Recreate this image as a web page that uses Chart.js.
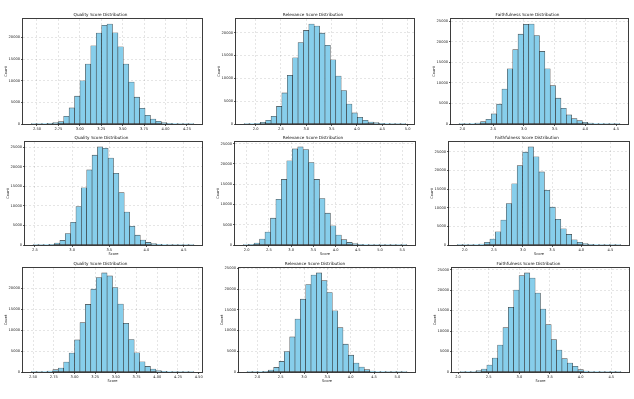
<!DOCTYPE html>
<html>
<head>
<meta charset="utf-8">
<script src="https://cdn.jsdelivr.net/npm/chart.js@4.4.1/dist/chart.umd.min.js"></script>
<style>
html,body{margin:0;padding:0;background:#fff;overflow:hidden}
#fig{position:relative;width:634px;height:399px;background:#fff}
#fig canvas{position:absolute}
</style>
</head>
<body>
<div id="fig"></div>
<script>
// ---------------- data ----------------
const panelTitles = [
  'Quality Score Distribution', 'Relevance Score Distribution', 'Faithfulness Score Distribution',
  'Quality Score Distribution', 'Relevance Score Distribution', 'Faithfulness Score Distribution',
  'Quality Score Distribution', 'Relevance Score Distribution', 'Faithfulness Score Distribution'
];
// histogram bins: first edge and width (30 bins per panel)
const binStarts = [2.432, 1.772, 1.947, 2.474, 1.922, 1.871, 2.477, 1.778, 2.033];
const binWidths = [0.0633, 0.1065, 0.0872, 0.0722, 0.1227, 0.0936, 0.0655, 0.1143, 0.0875];

const qualityCounts1 = [5, 20, 80, 150, 310, 540, 1780, 3720, 6430, 10000, 13870, 18060, 21000, 22790, 23100, 21080, 17830, 13870, 9690, 6200, 3640, 2020, 1160, 620, 310, 150, 70, 30, 15, 5];
const relevanceCounts1 = [20, 60, 150, 370, 810, 1700, 3850, 6800, 10660, 14500, 17830, 20500, 21900, 21460, 19900, 17240, 14060, 10500, 7330, 4370, 2440, 1480, 810, 440, 300, 150, 80, 40, 15, 5];
const faithfulnessCounts1 = [10, 40, 100, 250, 570, 1150, 2460, 4840, 8530, 13450, 18120, 21900, 24300, 24380, 21570, 17700, 13450, 9350, 6310, 3850, 2210, 1310, 820, 410, 250, 120, 60, 25, 10, 5];
const qualityCounts2 = [10, 30, 80, 170, 500, 1180, 2950, 5810, 9850, 14650, 19200, 22990, 25090, 24750, 22230, 18360, 13390, 8420, 4800, 2530, 1260, 670, 340, 170, 80, 40, 20, 10, 5, 3];
const relevanceCounts2 = [30, 150, 490, 1470, 3190, 6620, 11270, 16180, 20750, 23690, 24180, 23530, 20340, 16180, 11440, 7840, 4740, 2450, 1310, 650, 330, 170, 90, 45, 20, 10, 5, 3, 2, 1];
const faithfulnessCounts2 = [5, 15, 40, 100, 260, 710, 1590, 3530, 6710, 11130, 16420, 21280, 24900, 26300, 23660, 19600, 14660, 10150, 6890, 4330, 2830, 1410, 710, 350, 150, 70, 30, 15, 5, 2];
const qualityCounts3 = [10, 40, 100, 240, 560, 950, 2380, 4530, 7700, 11830, 16200, 19850, 22630, 23740, 23030, 20250, 16280, 11670, 7780, 4610, 2460, 1350, 710, 320, 150, 80, 40, 20, 10, 5];
const relevanceCounts3 = [10, 30, 80, 160, 480, 1120, 2560, 4950, 8470, 12780, 17580, 21090, 23410, 23900, 22050, 19180, 14780, 10710, 6710, 4070, 2160, 1200, 560, 240, 120, 60, 30, 15, 5, 2];
const faithfulnessCounts3 = [15, 50, 130, 330, 730, 1710, 3420, 6590, 10830, 15790, 20020, 23520, 24180, 22950, 19290, 15380, 11560, 7900, 5370, 3260, 2200, 1380, 570, 240, 130, 70, 30, 15, 5, 2];

const xTicksQ1 = ['2.50', '2.75', '3.00', '3.25', '3.50', '3.75', '4.00', '4.25'];
const xTicksR1 = ['2.0', '2.5', '3.0', '3.5', '4.0', '4.5', '5.0'];
const xTicksF1 = ['2.0', '2.5', '3.0', '3.5', '4.0', '4.5'];
const xTicksQ2 = ['2.5', '3.0', '3.5', '4.0', '4.5'];
const xTicksR2 = ['2.0', '2.5', '3.0', '3.5', '4.0', '4.5', '5.0', '5.5'];
const xTicksF2 = ['2.0', '2.5', '3.0', '3.5', '4.0', '4.5'];
const xTicksQ3 = ['2.50', '2.75', '3.00', '3.25', '3.50', '3.75', '4.00', '4.25', '4.50'];
const xTicksR3 = ['2.0', '2.5', '3.0', '3.5', '4.0', '4.5', '5.0'];
const xTicksF3 = ['2.0', '2.5', '3.0', '3.5', '4.0', '4.5'];
const countTicks = ['0', '5000', '10000', '15000', '20000', '25000'];

const xAxisLabel = 'Score';
const yAxisLabel = 'Count';

// ---------------- layout (plot area rectangles, px) ----------------
const plotRects = [
  [23, 19, 202, 124], [236, 19, 414, 124], [451, 19, 628, 124],
  [25, 142, 202, 245], [235, 142, 415, 245], [449, 142, 629, 245],
  [23, 268, 202, 372], [239, 268, 415, 372], [452, 268, 629, 372]
];
const showXTitle = [false, false, false, true, true, true, true, true, true];

const countsList = [qualityCounts1, relevanceCounts1, faithfulnessCounts1,
                    qualityCounts2, relevanceCounts2, faithfulnessCounts2,
                    qualityCounts3, relevanceCounts3, faithfulnessCounts3];
const xTickList = [xTicksQ1, xTicksR1, xTicksF1, xTicksQ2, xTicksR2, xTicksF2, xTicksQ3, xTicksR3, xTicksF3];

const FONT = 'DejaVu Sans';
const Y_AXIS_W = 24, TOP_M = 9, X_AXIS_H = 14, RIGHT_M = 5;
const TITLE_SIZE = 4.2, TICK_SIZE = 3.6;

const framePlugin = {
  id: 'frame',
  afterDraw(chart) {
    const a = chart.chartArea, c = chart.ctx;
    c.save();
    c.strokeStyle = 'rgba(40,40,40,0.9)';
    c.lineWidth = 1;
    c.strokeRect(a.left - 0.5, a.top - 0.5, a.right - a.left + 1, a.bottom - a.top + 1);
    c.restore();
  }
};

const fig = document.getElementById('fig');

for (let p = 0; p < 9; p++) {
  const [L, T, R, B] = plotRects[p];
  const W = (R - L) + Y_AXIS_W + RIGHT_M;
  const H = (B - T) + TOP_M + X_AXIS_H;
  const cv = document.createElement('canvas');
  cv.width = W; cv.height = H;
  cv.style.left = (L - Y_AXIS_W) + 'px';
  cv.style.top = (T - TOP_M) + 'px';
  cv.style.width = W + 'px';
  cv.style.height = H + 'px';
  fig.appendChild(cv);

  const counts = countsList[p];
  const start = binStarts[p], w = binWidths[p];
  const n = counts.length;
  const pts = counts.map((c, i) => ({ x: start + (i + 0.5) * w, y: c }));
  const xMin = start - 0.05 * n * w;
  const xMax = start + n * w + 0.05 * n * w;
  const yMax = 1.05 * Math.max(...counts);
  const xLabels = xTickList[p];
  const yLabels = countTicks.filter(s => parseFloat(s) <= yMax);

  const titleH = TITLE_SIZE * 1.2 + 2;

  new Chart(cv, {
    type: 'bar',
    data: {
      datasets: [{
        data: pts,
        backgroundColor: '#87CEEB',
        borderColor: 'rgba(0,0,0,0.72)',
        borderWidth: 0.6,
        borderSkipped: false,
        barPercentage: 1,
        categoryPercentage: 1,
        grouped: false
      }]
    },
    options: {
      responsive: false,
      animation: false,
      devicePixelRatio: 1,
      layout: { padding: { top: TOP_M - titleH, left: 0, right: RIGHT_M, bottom: 0 } },
      plugins: {
        legend: { display: false },
        tooltip: { enabled: false },
        title: {
          display: true,
          text: panelTitles[p],
          color: '#111',
          font: { family: FONT, size: TITLE_SIZE, weight: 'normal' },
          padding: { top: 0, bottom: 2 }
        }
      },
      scales: {
        x: {
          type: 'linear',
          min: xMin,
          max: xMax,
          offset: false,
          bounds: 'data',
          afterBuildTicks: s => { s.ticks = xLabels.map(v => ({ value: parseFloat(v) })); },
          afterFit: s => { s.height = X_AXIS_H; },
          ticks: {
            autoSkip: false, maxRotation: 0, minRotation: 0, padding: 1,
            color: '#222', font: { family: FONT, size: TICK_SIZE },
            callback: (v, i) => xLabels[i]
          },
          grid: { offset: false, color: 'rgba(0,0,0,0.13)', lineWidth: 0.8, tickLength: 2, tickColor: '#333', tickWidth: 0.8 },
          border: { display: false, dash: [2, 2] },
          title: {
            display: showXTitle[p], text: xAxisLabel, color: '#222',
            font: { family: FONT, size: TICK_SIZE }, padding: { top: 0, bottom: 2.4 }
          }
        },
        y: {
          type: 'linear',
          min: 0,
          max: yMax,
          bounds: 'data',
          afterBuildTicks: s => { s.ticks = yLabels.map(v => ({ value: parseFloat(v) })); },
          afterFit: s => { s.width = Y_AXIS_W; },
          ticks: {
            padding: 1, color: '#222', font: { family: FONT, size: TICK_SIZE },
            callback: (v, i) => yLabels[i]
          },
          grid: { color: 'rgba(0,0,0,0.13)', lineWidth: 0.8, tickLength: 2, tickColor: '#333', tickWidth: 0.8 },
          border: { display: false, dash: [2, 2] },
          title: {
            display: true, text: yAxisLabel, color: '#222',
            font: { family: FONT, size: TICK_SIZE }, padding: { top: 4.9, bottom: 0 }
          }
        }
      }
    },
    plugins: [framePlugin]
  });
}
</script>
</body>
</html>
